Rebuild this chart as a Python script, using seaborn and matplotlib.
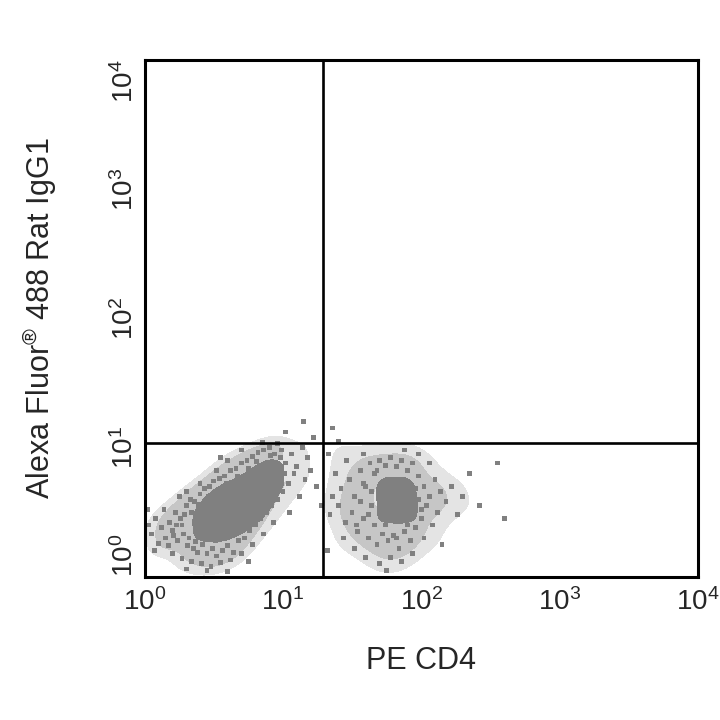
import numpy as np
import pandas as pd
import matplotlib
matplotlib.use("Agg")
import matplotlib.pyplot as plt
from matplotlib.colors import ListedColormap
import seaborn as sns

# events, log10 units: (PE CD4, Alexa Fluor 488)
# solid cores of the two populations
neg_core = [(0.45, 0.38), (0.45, 0.46), (0.45, 0.53),
            (0.51, 0.36), (0.51, 0.45), (0.51, 0.54), (0.51, 0.61),
            (0.58, 0.36), (0.58, 0.45), (0.58, 0.54), (0.58, 0.65),
            (0.65, 0.38), (0.65, 0.47), (0.65, 0.56), (0.65, 0.67),
            (0.72, 0.42), (0.72, 0.51), (0.72, 0.60), (0.72, 0.71),
            (0.79, 0.47), (0.79, 0.56), (0.79, 0.65), (0.79, 0.77),
            (0.86, 0.56), (0.86, 0.65), (0.86, 0.75), (0.86, 0.83),
            (0.92, 0.68), (0.92, 0.79)]
pos_core = [(1.73, 0.48), (1.78, 0.50), (1.83, 0.47), (1.88, 0.50), (1.92, 0.49), (1.73, 0.58),
            (1.78, 0.62), (1.84, 0.58), (1.89, 0.62), (1.92, 0.57), (1.73, 0.68), (1.77, 0.71),
            (1.82, 0.68), (1.87, 0.71), (1.91, 0.67), (1.80, 0.55), (1.86, 0.64), (1.75, 0.64)]

# scattered events around the cores
neg_events = [(0.15, 0.30), (0.18, 0.42), (0.20, 0.36), (0.22, 0.50), (0.24, 0.28), (0.26, 0.45),
              (0.28, 0.33), (0.30, 0.55), (0.31, 0.24), (0.33, 0.60), (0.35, 0.22), (0.36, 0.58),
              (0.38, 0.19), (0.40, 0.64), (0.42, 0.25), (0.43, 0.68), (0.45, 0.18), (0.47, 0.70),
              (0.49, 0.22), (0.50, 0.74), (0.52, 0.16), (0.54, 0.76), (0.56, 0.20), (0.58, 0.78),
              (0.60, 0.24), (0.62, 0.82), (0.64, 0.19), (0.66, 0.84), (0.68, 0.28), (0.70, 0.88),
              (0.72, 0.30), (0.74, 0.90), (0.76, 0.36), (0.78, 0.93), (0.80, 0.40), (0.82, 0.96),
              (0.84, 0.45), (0.86, 0.98), (0.88, 0.50), (0.90, 1.00), (0.92, 0.55), (0.94, 0.95),
              (0.96, 0.60), (0.98, 0.92), (1.00, 0.66), (1.02, 0.88), (1.04, 0.72), (1.06, 0.95),
              (1.08, 0.80), (1.10, 0.85), (0.12, 0.38), (0.10, 0.26), (0.08, 0.45), (0.05, 0.33),
              (0.03, 0.40), (0.07, 0.20), (0.14, 0.52), (0.20, 0.18), (0.27, 0.14), (0.34, 0.12),
              (0.41, 0.10), (0.48, 0.08), (0.55, 0.11), (0.62, 0.13), (0.70, 0.18), (0.78, 0.25),
              (0.86, 0.33), (0.93, 0.42), (1.12, 0.62), (1.16, 0.75), (1.20, 0.82), (1.18, 0.92),
              (1.24, 0.70), (1.14, 1.00), (0.96, 1.03), (0.85, 1.04), (0.40, 0.72), (0.30, 0.66),
              (0.25, 0.62), (0.52, 0.82), (0.60, 0.90), (0.17, 0.24), (0.23, 0.40), (0.29, 0.48),
              (0.32, 0.30), (0.37, 0.27), (0.44, 0.30), (0.51, 0.28), (0.57, 0.30), (0.63, 0.35),
              (0.69, 0.38), (0.73, 0.44), (0.79, 0.50), (0.85, 0.57), (0.89, 0.62), (0.93, 0.70),
              (0.97, 0.76), (1.01, 0.80), (0.99, 0.98), (0.91, 0.94), (0.81, 0.89), (0.75, 0.84),
              (0.67, 0.78), (0.59, 0.72), (0.53, 0.67), (0.46, 0.62), (0.39, 0.56), (0.34, 0.50),
              (0.27, 0.40), (0.21, 0.32), (0.45, 0.05), (0.60, 0.04), (0.30, 0.06), (0.75, 0.12),
              (1.05, 0.50), (1.22, 1.08), (1.28, 0.55), (0.02, 0.52), (0.55, 0.92), (0.70, 0.98)]
pos_events = [(1.40, 0.55), (1.42, 0.68), (1.45, 0.42), (1.48, 0.75), (1.50, 0.50), (1.52, 0.62),
              (1.54, 0.35), (1.56, 0.82), (1.58, 0.45), (1.60, 0.70), (1.62, 0.30), (1.63, 0.88),
              (1.64, 0.55), (1.66, 0.40), (1.66, 0.80), (1.68, 0.25), (1.70, 0.90), (1.72, 0.33),
              (1.74, 0.86), (1.76, 0.28), (1.78, 0.92), (1.80, 0.32), (1.82, 0.85), (1.84, 0.22),
              (1.86, 0.90), (1.88, 0.35), (1.90, 0.82), (1.92, 0.28), (1.94, 0.88), (1.96, 0.38),
              (1.98, 0.78), (2.00, 0.45), (2.02, 0.70), (2.04, 0.55), (2.06, 0.62), (2.08, 0.40),
              (2.10, 0.75), (2.12, 0.50), (2.14, 0.66), (2.18, 0.58), (2.22, 0.70), (2.26, 0.48),
              (1.36, 0.62), (1.34, 0.48), (1.38, 0.80), (1.44, 0.30), (1.46, 0.90), (1.52, 0.22),
              (1.58, 0.95), (1.60, 0.15), (1.70, 0.10), (1.78, 0.15), (1.86, 0.12), (1.94, 0.18),
              (2.02, 0.30), (2.06, 0.88), (1.98, 0.95), (1.88, 0.98), (1.56, 0.58), (1.62, 0.48),
              (1.64, 0.66), (1.98, 0.60), (2.00, 0.52), (1.96, 0.68), (1.68, 0.82), (1.82, 0.30),
              (1.74, 0.40), (1.90, 0.40), (1.58, 0.72), (1.53, 0.40), (2.30, 0.62), (2.35, 0.80),
              (2.42, 0.55), (2.55, 0.88), (2.60, 0.45), (1.33, 0.95), (1.40, 1.05), (1.32, 0.20),
              (1.75, 0.05), (2.15, 0.25), (1.36, 1.15), (1.02, 1.12), (1.15, 1.20)]

gate_x = 19.5   # vertical quadrant line
gate_y = 10.9   # horizontal quadrant line
tick_vals = [1, 10, 100, 1000, 10000]

sns.set_style("white")
plt.rcParams["font.family"] = ["Liberation Sans", "DejaVu Sans"]
plt.rcParams["mathtext.fontset"] = "custom"
plt.rcParams["mathtext.rm"] = "Liberation Sans"
plt.rcParams["mathtext.it"] = "Liberation Sans:italic"


def to_df(pts):
    arr = 10 ** np.array(pts)
    return pd.DataFrame({"x": arr[:, 0], "y": arr[:, 1]})


fig = plt.figure(figsize=(7.2, 7.2), dpi=100)
ax = fig.add_axes([0.201, 0.199, 0.768, 0.718])

# soft haze where the events are dense
for ev in [neg_events, pos_events]:
    sns.kdeplot(data=to_df(ev), x="x", y="y", log_scale=True, fill=True, bw_adjust=0.8,
                levels=[0.25, 0.55, 1.0], cmap=ListedColormap(["#e4e4e4", "#c6c6c6"]), ax=ax)

# solid grey cores
for core in [neg_core, pos_core]:
    sns.kdeplot(data=to_df(core), x="x", y="y", log_scale=True, fill=True, bw_adjust=0.85,
                levels=[0.07, 1.0], cmap=ListedColormap(["#808080"]), ax=ax)

# individual events
sns.scatterplot(data=to_df(neg_events + pos_events), x="x", y="y", marker="s", s=12,
                color="#808080", edgecolor="none", ax=ax, legend=False)

ax.axvline(gate_x, color="black", lw=1.9)
ax.axhline(gate_y, color="black", lw=1.9)

ax.set_xscale("log")
ax.set_yscale("log")
ax.set_xlim(1, 10000)
ax.set_ylim(1, 10000)
ax.set_xticks(tick_vals)
ax.set_yticks(tick_vals)
ax.minorticks_off()
ax.tick_params(axis="both", length=0, labelsize=20)
ax.tick_params(axis="x", pad=8)
ax.tick_params(axis="y", pad=4)
ylabs = ax.get_yticklabels()
for lab in ylabs:
    lab.set_rotation(90)
    lab.set_va("center")
ylabs[0].set_va("bottom")
ylabs[-1].set_va("top")

for sp in ax.spines.values():
    sp.set_color("black")
    sp.set_linewidth(2.2)

ax.set_xlabel("PE CD4", fontsize=22, labelpad=22)
ax.set_ylabel(r"Alexa Fluor$^{\circledR}$ 488 Rat IgG1", fontsize=22, labelpad=38)

fig.savefig("out.png", dpi=100)
